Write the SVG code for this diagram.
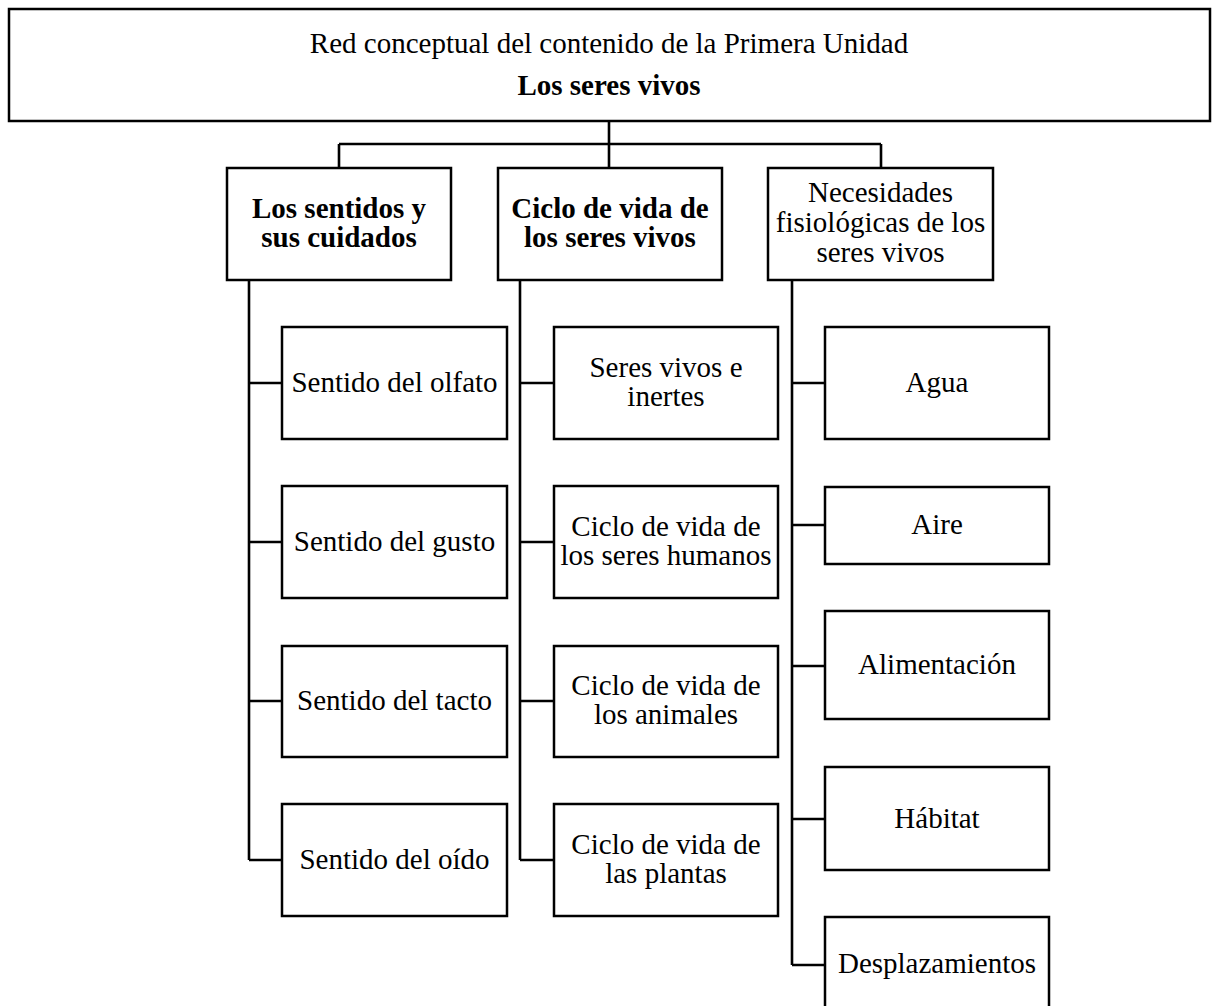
<svg xmlns="http://www.w3.org/2000/svg" width="1215" height="1006" viewBox="0 0 1215 1006">
<style>
.box{fill:#fff;stroke:#000;stroke-width:2.5}
.ln{fill:none;stroke:#000;stroke-width:2.6}
text{font-family:"Liberation Serif","Times New Roman",serif;font-size:29px;fill:#000;text-anchor:middle}
.b{font-weight:bold}
</style>
<rect width="1215" height="1006" fill="#fff"/>
<g id="connectors">
<path class="ln" d="M609,121 V144 M339,144 H881 M339,144 V168 M609,144 V168 M881,144 V168"/>
<path class="ln" d="M249,280 V860 M249,383 H282 M249,542 H282 M249,701 H282 M249,860 H282"/>
<path class="ln" d="M520,280 V860 M520,383 H554 M520,542 H554 M520,701 H554 M520,860 H554"/>
<path class="ln" d="M792,280 V965 M792,383 H825 M792,525 H825 M792,666 H825 M792,819 H825 M792,965 H825"/>
</g>
<g id="root">
<rect class="box" x="9" y="9" width="1201" height="112"/>
<text x="609" y="53">Red conceptual del contenido de la Primera Unidad</text>
<text class="b" x="609" y="95">Los seres vivos</text>
</g>
<g id="sentidos">
<rect class="box" x="227" y="168" width="224" height="112"/>
<text class="b" x="339" y="218">Los sentidos y</text>
<text class="b" x="339" y="247">sus cuidados</text>
</g>
<g id="ciclo">
<rect class="box" x="498" y="168" width="224" height="112"/>
<text class="b" x="610" y="218">Ciclo de vida de</text>
<text class="b" x="610" y="247">los seres vivos</text>
</g>
<g id="necesidades">
<rect class="box" x="768" y="168" width="225" height="112"/>
<text x="880.5" y="202">Necesidades</text>
<text x="880.5" y="232">fisiológicas de los</text>
<text x="880.5" y="262">seres vivos</text>
</g>
<g id="olfato">
<rect class="box" x="282" y="327" width="225" height="112"/>
<text x="394.5" y="392">Sentido del olfato</text>
</g>
<g id="gusto">
<rect class="box" x="282" y="486" width="225" height="112"/>
<text x="394.5" y="551">Sentido del gusto</text>
</g>
<g id="tacto">
<rect class="box" x="282" y="646" width="225" height="111"/>
<text x="394.5" y="710">Sentido del tacto</text>
</g>
<g id="oido">
<rect class="box" x="282" y="804" width="225" height="112"/>
<text x="394.5" y="869">Sentido del oído</text>
</g>
<g id="seres-inertes">
<rect class="box" x="554" y="327" width="224" height="112"/>
<text x="666" y="377">Seres vivos e</text>
<text x="666" y="406">inertes</text>
</g>
<g id="ciclo-humanos">
<rect class="box" x="554" y="486" width="224" height="112"/>
<text x="666" y="536">Ciclo de vida de</text>
<text x="666" y="565">los seres humanos</text>
</g>
<g id="ciclo-animales">
<rect class="box" x="554" y="646" width="224" height="111"/>
<text x="666" y="695">Ciclo de vida de</text>
<text x="666" y="724">los animales</text>
</g>
<g id="ciclo-plantas">
<rect class="box" x="554" y="804" width="224" height="112"/>
<text x="666" y="854">Ciclo de vida de</text>
<text x="666" y="883">las plantas</text>
</g>
<g id="agua">
<rect class="box" x="825" y="327" width="224" height="112"/>
<text x="937" y="392">Agua</text>
</g>
<g id="aire">
<rect class="box" x="825" y="487" width="224" height="77"/>
<text x="937" y="534">Aire</text>
</g>
<g id="alimentacion">
<rect class="box" x="825" y="611" width="224" height="108"/>
<text x="937" y="674">Alimentación</text>
</g>
<g id="habitat">
<rect class="box" x="825" y="767" width="224" height="103"/>
<text x="937" y="828">Hábitat</text>
</g>
<g id="desplazamientos">
<rect class="box" x="825" y="917" width="224" height="120"/>
<text x="937" y="973">Desplazamientos</text>
</g>
</svg>
